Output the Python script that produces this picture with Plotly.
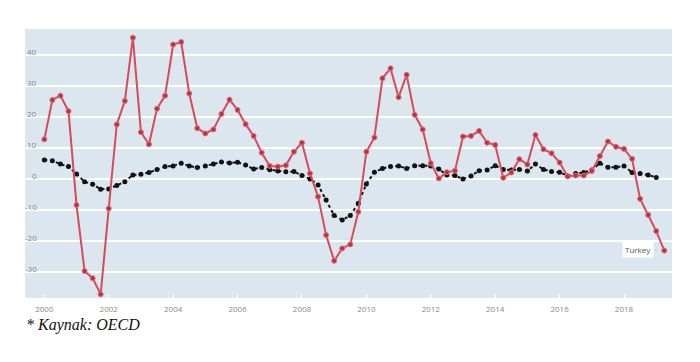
import plotly.graph_objects as go

# Quarterly data, 2000Q1 onward
start_year = 2000
turkey = [12.9, 25.6, 27.0, 22.0, -8.3, -29.6, -31.9, -37.1, -9.4, 17.7,
          25.3, 45.7, 15.2, 11.3, 22.8, 27.0, 43.5, 44.3, 27.7, 16.5,
          14.8, 16.1, 21.1, 25.7, 22.4, 17.8, 14.0, 8.6, 4.3, 4.1,
          4.5, 8.9, 11.8, 1.9, -5.6, -18.0, -26.3, -22.3, -21.0, -10.5,
          8.9, 13.5, 32.6, 35.8, 26.5, 33.7, 20.8, 16.1, 5.2, 0.3,
          2.3, 2.8, 13.8, 14.0, 15.6, 11.8, 11.1, 0.5, 2.2, 6.5,
          4.8, 14.3, 9.7, 8.4, 5.4, 0.9, 1.2, 1.2, 2.7, 7.5,
          12.2, 10.5, 9.8, 6.6, -6.3, -11.5, -16.7, -23.0]
oecd = [6.2, 6.0, 4.9, 4.1, 1.7, -0.8, -1.6, -3.2, -3.1, -2.0,
        -0.8, 1.4, 1.6, 2.2, 3.2, 4.1, 4.3, 5.2, 4.3, 3.8,
        4.3, 4.9, 5.6, 5.3, 5.5, 4.6, 3.3, 3.8, 3.1, 2.7,
        2.4, 2.5, 1.2, 0.1, -1.8, -6.7, -11.7, -13.1, -11.7, -7.7,
        -1.5, 2.3, 3.5, 4.1, 4.3, 3.5, 4.4, 4.4, 4.3, 3.3,
        1.4, 1.2, 0.1, 1.1, 2.8, 3.0, 4.4, 3.2, 3.0, 3.2,
        2.7, 4.9, 3.2, 2.5, 2.3, 1.1, 1.9, 2.2, 3.0, 5.2,
        3.9, 3.9, 4.3, 2.2, 1.9, 1.4, 0.6]
x_tick_vals = [2000, 2002, 2004, 2006, 2008, 2010, 2012, 2014, 2016, 2018]
x_tick_text = [str(v) for v in x_tick_vals]
y_tick_vals = [-30, -20, -10, 0, 10, 20, 30, 40]
label_text = "Turkey"
caption = "* Kaynak: OECD"

xt = [start_year + i / 4 for i in range(len(turkey))]
xo = [start_year + i / 4 for i in range(len(oecd))]

fig = go.Figure()
fig.add_trace(go.Scatter(
    x=xo, y=oecd, mode="lines+markers",
    line=dict(color="#111111", width=2, dash="dot"),
    marker=dict(color="#111111", size=5),
    showlegend=False, hoverinfo="skip"))
fig.add_trace(go.Scatter(
    x=xt, y=turkey, mode="lines+markers",
    line=dict(color="#d44c59", width=2),
    marker=dict(color="#b8323f", size=5, line=dict(color="#e0707a", width=1)),
    showlegend=False, hoverinfo="skip"))

# y tick labels drawn inside the plot area
for v in y_tick_vals:
    fig.add_annotation(xref="paper", yref="y", x=0, y=v, text=str(v),
                       showarrow=False, xanchor="right", yanchor="middle",
                       xshift=14, yshift=4,
                       font=dict(size=8, color="#888888", family="Open Sans"))

fig.add_annotation(x=xt[-1], y=turkey[-1], text=label_text, showarrow=False,
                   xanchor="right", xshift=-10, yshift=1,
                   bgcolor="white", borderpad=2,
                   font=dict(size=8, color="#555555", family="Open Sans"))
fig.add_annotation(xref="paper", yref="paper", x=0, y=0, text="<i>" + caption + "</i>",
                   showarrow=False, xanchor="left", yanchor="middle",
                   xshift=-1, yshift=-27,
                   font=dict(size=16, color="#111111", family="Liberation Serif"))

fig.update_layout(
    width=700, height=362,
    margin=dict(l=17, r=36, t=21, b=72),
    paper_bgcolor="white", plot_bgcolor="#dbe6ee",
    xaxis=dict(range=[1999.4, 2019.49], tickvals=x_tick_vals, ticktext=x_tick_text,
               showgrid=False, zeroline=False, ticks="inside", ticklen=4,
               tickcolor="white", tickwidth=1, ticklabelstandoff=5,
               tickfont=dict(size=8, color="#888888", family="Open Sans")),
    yaxis=dict(range=[-38.3, 48.5], tickvals=y_tick_vals, showticklabels=False,
               gridcolor="white", gridwidth=1.5, zeroline=False),
)

fig.write_html("out.html")
